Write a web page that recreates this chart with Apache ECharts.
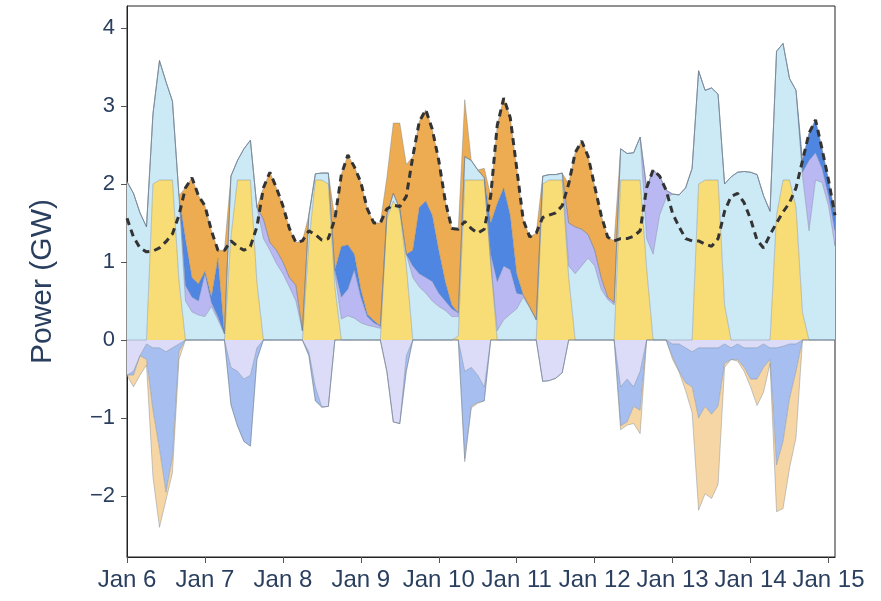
<!DOCTYPE html>
<html>
<head>
<meta charset="utf-8">
<script src="https://cdn.jsdelivr.net/npm/echarts@6/dist/echarts.min.js"></script>
<style>
  html, body { margin: 0; padding: 0; background: #ffffff; }
  #chart { width: 881px; height: 601px; }
</style>
</head>
<body>
<div id="chart"></div>
<script>
// Day tick labels (one every 12 two-hour steps)
const dayLabels = ['Jan 6', 'Jan 7', 'Jan 8', 'Jan 9', 'Jan 10', 'Jan 11', 'Jan 12', 'Jan 13', 'Jan 14', 'Jan 15'];
const yTicks = [-2, -1, 0, 1, 2, 3, 4];

// Two-hourly sample times, hours since Jan 6 00:00
const hours = Array.from({ length: 110 }, (_, i) => 2 * i);
const times = hours.map(h => 'Jan ' + (6 + Math.floor(h / 24)) + ' ' + String(h % 24).padStart(2, '0') + ':00');

// Supply (GW), stacked upwards in this order
const solar = [
  0, 0, 0, 0, 2.0, 2.05, 2.05, 2.05, 0.76, 0, 0, 0,
  0, 0, 0, 0, 1.32, 2.05, 2.05, 2.05, 0.74, 0, 0, 0,
  0, 0, 0, 0, 1.24, 2.05, 2.05, 2.0, 0.68, 0, 0, 0,
  0, 0, 0, 0, 1.55, 1.78, 1.65, 0.95, 0, 0, 0, 0,
  0, 0, 0, 0.05, 2.05, 2.05, 2.05, 2.05, 0.98, 0, 0, 0,
  0, 0, 0, 0, 2.0, 2.05, 2.05, 2.05, 0.8, 0, 0, 0,
  0, 0, 0, 0, 2.05, 2.05, 2.05, 2.05, 0.92, 0, 0, 0,
  0, 0, 0, 0, 2.0, 2.05, 2.05, 2.05, 0.45, 0, 0, 0,
  0, 0, 0, 0, 1.6, 2.05, 2.05, 1.7, 0.35, 0, 0, 0,
  0, 0
];
const wind = [
  2.03, 1.88, 1.63, 1.45, 0.9, 1.53, 1.26, 1.01, 1.09, 0.5, 0.36, 0.32,
  0.3, 0.43, 0.26, 0.08, 0.78, 0.25, 0.4, 0.51, 0.96, 1.3, 1.15, 0.98,
  0.85, 0.68, 0.5, 0.12, 0.36, 0.08, 0.09, 0.14, 0.17, 0.27, 0.31, 0.28,
  0.22, 0.19, 0.17, 0.15, 0.05, 0.1, 0.03, 0.15, 0.8, 0.68, 0.6, 0.5,
  0.43, 0.38, 0.3, 0.25, 0.3, 0.25, 0.13, 0.03, 0.02, 0.12, 0.26, 0.33,
  0.4, 0.55, 0.42, 0.26, 0.1, 0.07, 0.07, 0.09, 0.15, 0.85, 0.95, 1.05,
  0.95, 0.65, 0.52, 0.45, 0.4, 0.34, 0.35, 0.55, 0.38, 1.1, 1.6, 1.82,
  1.87, 1.86, 1.95, 2.2, 1.45, 1.15, 1.18, 1.1, 1.55, 2.09, 2.15, 2.16,
  2.15, 2.12, 1.85, 1.65, 2.1, 1.75, 1.3, 1.5, 1.75, 1.4, 2.05, 2.02,
  1.72, 1.2
];
const hydro = [
  0, 0, 0, 0, 0, 0, 0, 0, 0, 0.2, 0.19, 0.18,
  0.55, 0.05, 0.04, 0, 0, 0, 0, 0, 0, 0.25, 0.1, 0.17,
  0.15, 0.12, 0.2, 0, 0, 0, 0, 0, 0.05, 0.28, 0.34, 0.62,
  0.33, 0.11, 0.05, 0.03, 0, 0, 0, 0, 0.15, 0.17, 0.2, 0.25,
  0.17, 0.12, 0.1, 0.05, 0, 0, 0, 0, 0.1, 0.63, 0.69, 0.57,
  0.2, 0.03, 0, 0, 0, 0, 0, 0, 0.55, 0.6, 0.47, 0.3,
  0.2, 0.15, 0.03, 0.03, 0, 0, 0, 0, 0.65, 1.08, 0.5, 0.1,
  0, 0, 0, 0, 0, 0, 0, 0, 0, 0, 0, 0,
  0, 0, 0, 0, 0, 0, 0, 0, 0.05, 0.9, 0.35, 0.18,
  0.13, 0.2
];
const battery = [
  0, 0, 0, 0, 0, 0, 0, 0, 0, 0.6, 0.25, 0.22,
  0.03, 0.07, 0.75, 0, 0, 0, 0, 0, 0, 0, 0, 0,
  0, 0, 0, 0, 0, 0, 0, 0, 0, 0.65, 0.57, 0.2,
  0.1, 0.03, 0.03, 0, 0, 0, 0, 0, 0.2, 0.85, 0.98, 0.85,
  0.55, 0.25, 0.05, 0, 0, 0, 0, 0, 0.4, 1.0, 1.0, 0.7,
  0.25, 0, 0, 0, 0, 0, 0, 0, 0, 0, 0, 0,
  0, 0, 0, 0, 0, 0, 0, 0, 0, 0, 0, 0,
  0, 0, 0, 0, 0, 0, 0, 0, 0, 0, 0, 0,
  0, 0, 0, 0, 0, 0, 0, 0, 0.15, 0.35, 0.42, 0.25,
  0.2, 0.2
];
const gas = [
  0, 0, 0, 0, 0, 0, 0, 0, 0, 0.65, 1.28, 1.13,
  0.84, 0.85, 0.1, 1.07, 0, 0, 0, 0, 0, 0.4, 0.9, 0.8,
  0.72, 0.63, 0.55, 1.15, 0, 0, 0, 0, 0.65, 0.92, 1.15, 1.12,
  1.37, 1.35, 1.25, 1.32, 0.48, 0.9, 1.1, 1.15, 1.2, 1.1, 1.17, 1.1,
  1.15, 1.03, 0.98, 1.07, 0.73, 0, 0, 0.12, 0.35, 1.0, 1.15, 1.25,
  1.35, 0.96, 0.9, 1.11, 0, 0, 0, 0, 0.5, 0.95, 1.13, 1.0,
  0.82, 0.8, 0.77, 0.79, 0, 0, 0, 0, 0, 0, 0, 0,
  0, 0, 0, 0, 0, 0, 0, 0, 0, 0, 0, 0,
  0, 0, 0, 0, 0, 0, 0, 0, 0, 0, 0, 0,
  0, 0
];

// Consumption by storage / export (GW), stacked downwards in this order
const hydroCharge = [
  -0.45, -0.4, -0.2, -0.05, -0.1, -0.1, -0.15, -0.1, -0.05, 0, 0, 0,
  0, 0, 0, 0, -0.35, -0.4, -0.5, -0.45, -0.1, 0, 0, 0,
  0, 0, 0, 0, -0.15, -0.6, -0.86, -0.85, 0, 0, 0, 0,
  0, 0, 0, 0, -0.4, -1.05, -1.07, -0.2, 0, 0, 0, 0,
  0, 0, 0, 0, -0.4, -0.35, -0.45, -0.6, 0, 0, 0, 0,
  0, 0, 0, 0, -0.53, -0.52, -0.49, -0.42, 0, 0, 0, 0,
  0, 0, 0, 0, -0.6, -0.5, -0.6, -0.4, 0, 0, 0, 0,
  -0.05, -0.05, -0.1, -0.15, -0.1, -0.1, -0.1, -0.1, -0.05, -0.1, -0.05, -0.1,
  -0.1, -0.1, -0.05, -0.1, -0.1, -0.08, -0.05, -0.05, 0, 0, 0, 0,
  0, 0
];
const batteryCharge = [
  0, -0.05, 0, -0.2, -0.8, -1.3, -1.8, -1.4, -0.1, 0, 0, 0,
  0, 0, 0, 0, -0.48, -0.7, -0.8, -0.91, -0.15, 0, 0, 0,
  0, 0, 0, 0, -0.05, -0.18, 0, 0, 0, 0, 0, 0,
  0, 0, 0, 0, 0, 0, 0, -0.2, 0, 0, 0, 0,
  0, 0, 0, 0, -1.12, -0.5, -0.35, -0.18, 0, 0, 0, 0,
  0, 0, 0, 0, 0, 0, 0, 0, 0, 0, 0, 0,
  0, 0, 0, 0, -0.5, -0.55, -0.25, -0.5, 0, 0, 0, 0,
  -0.17, -0.35, -0.45, -0.45, -0.9, -0.75, -0.85, -0.75, -0.25, -0.15, -0.2, -0.25,
  -0.4, -0.4, -0.3, -0.15, -1.5, -1.22, -0.7, -0.35, 0, 0, 0, 0,
  0, 0
];
const exportFlow = [
  0, -0.15, -0.25, -0.07, -0.86, -1.0, -0.1, -0.2, -0.1, 0, 0, 0,
  0, 0, 0, 0, 0, 0, 0, 0, 0, 0, 0, 0,
  0, 0, 0, 0, 0, 0, 0, 0, 0, 0, 0, 0,
  0, 0, 0, 0, 0, 0, 0, 0, 0, 0, 0, 0,
  0, 0, 0, 0, -0.04, -0.02, -0.01, 0, 0, 0, 0, 0,
  0, 0, 0, 0, 0, 0, 0, 0, 0, 0, 0, 0,
  0, 0, 0, 0, -0.05, -0.04, -0.22, -0.3, 0, 0, 0, 0,
  -0.03, -0.01, -0.1, -0.33, -1.18, -1.12, -1.08, -1.0, -0.05, 0, -0.02, -0.05,
  -0.1, -0.34, -0.32, -0.05, -0.6, -0.86, -0.89, -0.85, 0, 0, 0, 0,
  0, 0
];

// Electricity demand (GW)
const load = [
  1.56, 1.32, 1.18, 1.13, 1.14, 1.18, 1.26, 1.36, 1.6, 1.95, 2.08, 1.85,
  1.72, 1.4, 1.15, 1.15, 1.27, 1.2, 1.15, 1.2, 1.45, 1.95, 2.15, 1.95,
  1.72, 1.43, 1.25, 1.27, 1.4, 1.35, 1.28, 1.3, 1.55, 2.12, 2.37, 2.22,
  2.02, 1.68, 1.5, 1.5, 1.68, 1.73, 1.71, 1.84, 2.35, 2.8, 2.95, 2.7,
  2.3, 1.78, 1.43, 1.42, 1.52, 1.43, 1.37, 1.42, 1.85, 2.75, 3.1, 2.85,
  2.2, 1.54, 1.32, 1.37, 1.57, 1.6, 1.63, 1.72, 2.0, 2.4, 2.55, 2.35,
  1.97, 1.6, 1.32, 1.27, 1.3, 1.3, 1.33, 1.4, 1.95, 2.18, 2.1, 1.92,
  1.62, 1.45, 1.3, 1.27, 1.27, 1.23, 1.2, 1.3, 1.65, 1.84, 1.88, 1.76,
  1.55, 1.28, 1.18, 1.35, 1.5, 1.64, 1.76, 1.95, 2.3, 2.65, 2.82, 2.45,
  2.05, 1.6
];

const textColor = '#2a3f5f';
const fontFamily = '"Liberation Sans", Arial, Helvetica, sans-serif';
const edge = 'rgba(105,120,140,0.55)';

function area(name, vals, color, stack) {
  return {
    name: name,
    type: 'line',
    stack: stack,
    data: vals,
    symbol: 'none',
    silent: true,
    lineStyle: { width: 0.7, color: edge },
    areaStyle: { color: color, opacity: 1 },
    itemStyle: { color: color },
    z: 2
  };
}

const isDayStart = (i) => i % 12 === 0;

const chart = echarts.init(document.getElementById('chart'), null, { renderer: 'canvas' });

chart.setOption({
  animation: false,
  backgroundColor: '#ffffff',
  grid: {
    left: 127, right: 46, top: 6, bottom: 44,
    show: true, borderColor: '#222', borderWidth: 1, backgroundColor: 'transparent'
  },
  xAxis: {
    type: 'category',
    data: times,
    boundaryGap: false,
    axisLine: { show: true, onZero: false, lineStyle: { color: '#222', width: 1 } },
    axisTick: { show: true, interval: isDayStart, length: 6, lineStyle: { color: '#555' } },
    axisLabel: {
      interval: isDayStart,
      formatter: (v, i) => dayLabels[Math.round(i / 12)],
      color: textColor, fontSize: 24, fontFamily: fontFamily, margin: 11
    },
    splitLine: { show: false }
  },
  yAxis: {
    type: 'value',
    min: -2.78,
    max: 4.28,
    name: 'Power (GW)',
    nameLocation: 'middle',
    nameGap: 69,
    nameTextStyle: { color: textColor, fontSize: 30, fontFamily: fontFamily },
    axisLine: { show: true, lineStyle: { color: '#222', width: 1 } },
    axisTick: { show: true, customValues: yTicks, length: 6, lineStyle: { color: '#555' } },
    axisLabel: {
      customValues: yTicks,
      formatter: (v) => (v < 0 ? '\u2212' + Math.abs(v) : String(v)),
      color: textColor, fontSize: 22, fontFamily: fontFamily, margin: 12
    },
    splitLine: { show: false }
  },
  series: [
    area('Solar', solar, '#f8dc75', 'supply'),
    area('Wind', wind, '#cce9f6', 'supply'),
    area('Hydro', hydro, '#b9b8f2', 'supply'),
    area('Battery', battery, '#4f86e2', 'supply'),
    area('Gas', gas, '#eeac52', 'supply'),
    area('Hydro storage', hydroCharge, '#dcdcf9', 'use'),
    area('Battery charging', batteryCharge, '#a6bff0', 'use'),
    area('Export', exportFlow, '#f6d6a5', 'use'),
    {
      name: 'Load',
      type: 'line',
      data: load,
      symbol: 'none',
      silent: true,
      lineStyle: { color: '#333333', width: 3, type: [7, 5] },
      z: 5
    }
  ]
});
</script>
</body>
</html>
